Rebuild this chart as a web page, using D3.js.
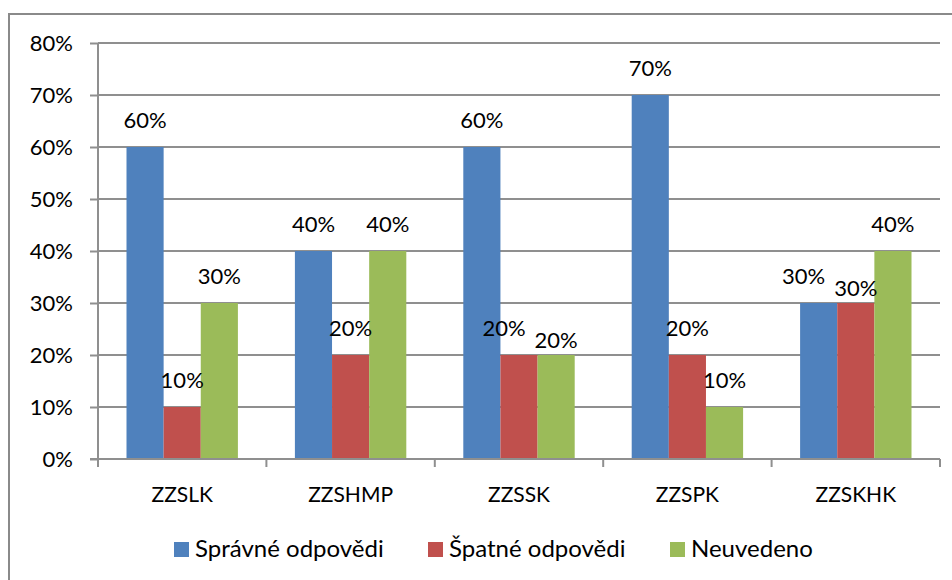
<!DOCTYPE html>
<html>
<head>
<meta charset="utf-8">
<script src="https://cdn.jsdelivr.net/npm/d3@7"></script>
<style>
  body { margin: 0; background: #fff; }
  text { font-family: Lato, "Liberation Sans", sans-serif; fill: #000; }
</style>
</head>
<body>
<div id="chart"></div>
<script>
// data
var categories = ["ZZSLK", "ZZSHMP", "ZZSSK", "ZZSPK", "ZZSKHK"];
var seriesNames = ["Správné odpovědi", "Špatné odpovědi", "Neuvedeno"];
var spravne = [0.6, 0.4, 0.6, 0.7, 0.3];
var spatne = [0.1, 0.2, 0.2, 0.2, 0.3];
var neuvedeno = [0.3, 0.4, 0.2, 0.1, 0.4];
var yTicks = [0, 0.1, 0.2, 0.3, 0.4, 0.5, 0.6, 0.7, 0.8];
var colors = ["#4F81BD", "#C0504D", "#9BBB59"];

var allSeries = [spravne, spatne, neuvedeno];

var W = 952, H = 580;
var plotLeft = 98, plotRight = 940, plotTop = 43, plotBottom = 459;

var svg = d3.select("#chart")
  .append("svg")
    .attr("width", W)
    .attr("height", H);

// outer frame (clipped at right and bottom like the original)
svg.append("path")
  .attr("d", "M9,600 L9,14 L960,14")
  .attr("fill", "none")
  .attr("stroke", "#8a8a8a")
  .attr("stroke-width", 2);

var x0 = d3.scaleBand()
  .domain(categories)
  .range([plotLeft, plotRight]);

var x1 = d3.scaleBand()
  .domain(d3.range(seriesNames.length))
  .range([28.5, x0.bandwidth() - 28.5]);

var y = d3.scaleLinear()
  .domain([0, 0.8])
  .range([plotBottom, plotTop]);

// gridlines
svg.append("g").selectAll("line")
  .data(yTicks.filter(function(d) { return d > 0; }))
  .enter()
  .append("line")
    .attr("x1", plotLeft)
    .attr("x2", plotRight)
    .attr("y1", function(d) { return y(d); })
    .attr("y2", function(d) { return y(d); })
    .attr("stroke", "#8f8f8f")
    .attr("stroke-width", 2);

// y axis
var yAxis = svg.append("g")
  .attr("transform", "translate(" + plotLeft + ",0)")
  .call(d3.axisLeft(y).tickValues(yTicks).tickFormat(d3.format(".0%")).tickSize(8).tickPadding(17));
yAxis.select(".domain").remove();
yAxis.selectAll(".tick line").attr("stroke", "#8f8f8f").attr("stroke-width", 2);
yAxis.selectAll(".tick text")
  .attr("fill", "#000")
  .style("font-size", "22px")
  .style("font-family", "Lato, sans-serif")
  .attr("dy", "0.36em");

// bars
var groups = svg.append("g").selectAll("g")
  .data(categories)
  .enter()
  .append("g")
    .attr("transform", function(d) { return "translate(" + x0(d) + ",0)"; });

groups.selectAll("rect")
  .data(function(c, ci) { return allSeries.map(function(s, si) { return {si: si, v: s[ci]}; }); })
  .enter()
  .append("rect")
    .attr("x", function(d) { return x1(d.si); })
    .attr("width", x1.bandwidth())
    .attr("y", function(d) { return y(d.v); })
    .attr("height", function(d) { return plotBottom - y(d.v); })
    .attr("fill", function(d) { return colors[d.si]; });

// axis lines
svg.append("line")
  .attr("x1", plotLeft - 8).attr("x2", plotRight)
  .attr("y1", plotBottom).attr("y2", plotBottom)
  .attr("stroke", "#8f8f8f").attr("stroke-width", 2);
svg.append("line")
  .attr("x1", plotLeft).attr("x2", plotLeft)
  .attr("y1", plotTop).attr("y2", plotBottom)
  .attr("stroke", "#8f8f8f").attr("stroke-width", 2);

var xTicks = categories.map(function(c) { return x0(c); }).concat([plotRight]);
svg.append("g").selectAll("line")
  .data(xTicks)
  .enter()
  .append("line")
    .attr("x1", function(d) { return d; })
    .attr("x2", function(d) { return d; })
    .attr("y1", plotBottom)
    .attr("y2", plotBottom + 8)
    .attr("stroke", "#8f8f8f")
    .attr("stroke-width", 2);

svg.append("g").selectAll("text")
  .data(categories)
  .enter()
  .append("text")
    .attr("x", function(d) { return x0(d) + x0.bandwidth() / 2; })
    .attr("y", 502)
    .attr("text-anchor", "middle")
    .style("font-size", "21px")
    .text(function(d) { return d; });

// data labels (Excel-like nudge when neighbouring labels collide)
groups.selectAll(".lbl")
  .data(function(c, ci) {
    return allSeries.map(function(s, si) {
      var dx = 0, dy = 0;
      if (si < allSeries.length - 1 && allSeries[si + 1][ci] === s[ci]) dx = -15;
      if (si > 0 && allSeries[si - 1][ci] === s[ci]) dy = 12;
      return {si: si, v: s[ci], dx: dx, dy: dy};
    });
  })
  .enter()
  .append("text")
    .attr("class", "lbl")
    .attr("x", function(d) { return x1(d.si) + x1.bandwidth() / 2 + d.dx; })
    .attr("y", function(d) { return y(d.v) - 19 + d.dy; })
    .attr("text-anchor", "middle")
    .style("font-size", "22px")
    .text(function(d) { return d3.format(".0%")(d.v); });

// legend
var legendX = [174, 428, 670];
var legend = svg.append("g").selectAll("g")
  .data(seriesNames)
  .enter()
  .append("g")
    .attr("transform", function(d, i) { return "translate(" + legendX[i] + ",542)"; });
legend.append("rect")
  .attr("width", 15).attr("height", 15)
  .attr("fill", function(d, i) { return colors[i]; });
legend.append("text")
  .attr("x", 21)
  .attr("y", 15)
  .style("font-size", "24px")
  .text(function(d) { return d; });
</script>
</body>
</html>
